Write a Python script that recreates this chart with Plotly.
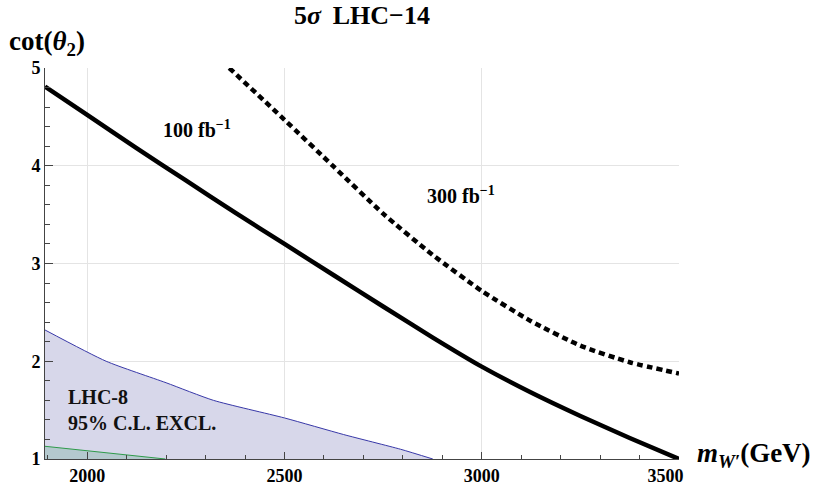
import plotly.graph_objects as go

# ---- data ----
x_100 = [1893, 2000, 2125, 2250, 2375, 2500, 2625, 2750, 2875, 3000, 3125, 3250, 3375, 3500]
y_100 = [4.81, 4.52, 4.18, 3.85, 3.52, 3.20, 2.88, 2.56, 2.245, 1.945, 1.68, 1.44, 1.215, 1.00]

x_300 = [2360, 2500, 2625, 2750, 2875, 3000, 3125, 3250, 3375, 3500]
y_300 = [5.00, 4.47, 3.99, 3.51, 3.09, 2.72, 2.41, 2.16, 1.99, 1.875]

x_excl = [1893, 2048, 2200, 2320, 2500, 2650, 2794, 2876]
y_excl = [2.32, 2.00, 1.78, 1.60, 1.42, 1.25, 1.10, 1.00]

x_green = [1893, 2198]
y_green = [1.13, 1.00]

x_ticks = [2000, 2500, 3000, 3500]
x_ticktext = ["2000", "2500", "3000", "3500\u2007\u2007\u2007"]
y_ticks = [1, 2, 3, 4, 5]

FONT = "Liberation Serif"
W, H = 815, 485

fig = go.Figure()

fig.add_trace(go.Scatter(
    x=x_excl, y=y_excl, mode="lines", fill="tozeroy",
    fillcolor="#d7d7ea", line=dict(color="#3838a8", width=1, shape="spline", smoothing=0.6),
    hoverinfo="skip", showlegend=False))

fig.add_trace(go.Scatter(
    x=x_green, y=y_green, mode="lines", fill="tozeroy",
    fillcolor="rgba(0,128,60,0.16)", line=dict(color="#2e9a4a", width=1),
    hoverinfo="skip", showlegend=False))

fig.add_trace(go.Scatter(
    x=x_100, y=y_100, mode="lines",
    line=dict(color="black", width=4.5, shape="spline", smoothing=0.6),
    showlegend=False))

fig.add_trace(go.Scatter(
    x=x_300, y=y_300, mode="lines",
    line=dict(color="black", width=4.5, dash="6px,4px", shape="spline", smoothing=0.6),
    showlegend=False))

axis_common = dict(
    showline=True, linecolor="#444", linewidth=1,
    showgrid=True, gridcolor="#e4e4e4", gridwidth=1,
    zeroline=False, ticks="inside", tickcolor="#444",
    automargin=False, mirror=False,
)

fig.update_xaxes(
    range=[1893, 3500], tickvals=x_ticks, ticktext=x_ticktext,
    ticklen=7,
    tickfont=dict(family=FONT, size=18, color="black", weight="bold"),
    minor=dict(dtick=100, tick0=2000, ticks="inside", ticklen=4, tickcolor="#444", showgrid=False),
    **axis_common)
fig.update_yaxes(
    range=[1, 5], tickvals=y_ticks, ticktext=[str(v) for v in y_ticks],
    ticklen=8,
    tickfont=dict(family=FONT, size=18, color="black", weight="bold"),
    minor=dict(dtick=0.2, tick0=1, ticks="inside", ticklen=5, tickcolor="#444", showgrid=False),
    **axis_common)

annotations = [
    dict(text="<b>100 fb<sup>\u22121</sup></b>", x=2278, y=4.38, xref="x", yref="y",
         showarrow=False, font=dict(family=FONT, size=20, color="black")),
    dict(text="<b>300 fb<sup>\u22121</sup></b>", x=2947, y=3.70, xref="x", yref="y",
         showarrow=False, font=dict(family=FONT, size=20, color="black")),
    dict(text="<b>LHC-8<br>95% C.L. EXCL.</b>", x=1946, y=1.50, xref="x", yref="y",
         xanchor="left", align="left", showarrow=False,
         font=dict(family=FONT, size=20, color="#111")),
    dict(text="<b>cot(<i>\u03b8</i><sub>2</sub>)</b>", x=-0.06, y=1.064, xref="paper", yref="paper",
         xanchor="left", yanchor="middle", showarrow=False,
         font=dict(family=FONT, size=27, color="black")),
    dict(text="<b><i>m</i><sub><i>W\u2032</i></sub>(GeV)</b>", x=1.026, y=0.01, xref="paper", yref="paper",
         xanchor="left", yanchor="middle", showarrow=False,
         font=dict(family=FONT, size=27, color="black")),
]

fig.update_layout(
    width=W, height=H,
    margin=dict(l=45, r=136, t=68, b=26, autoexpand=False),
    paper_bgcolor="white", plot_bgcolor="white",
    title=dict(text="<b>5<i>\u03c3</i> \u2009LHC\u221214</b>", x=0.5, xref="paper", xanchor="center",
               y=1 - 15 / H, yref="container", yanchor="middle",
               font=dict(family=FONT, size=26, color="black")),
    annotations=annotations,
)

# remove the default 8px page margin so the figure sits at the window's top-left corner
fig.write_html("out.html",
               config={"displayModeBar": False},
               post_script="document.body.style.margin='0';document.body.style.overflow='hidden';")
